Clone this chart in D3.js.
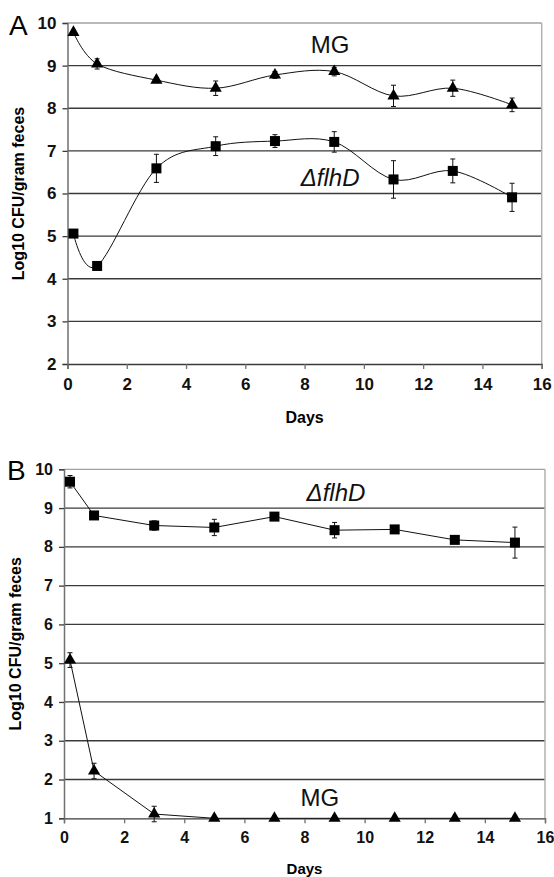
<!DOCTYPE html>
<html>
<head>
<meta charset="utf-8">
<script src="https://cdn.jsdelivr.net/npm/d3@7"></script>
<style>
  body { margin: 0; background: #fff; }
  svg { display: block; font-family: "Liberation Sans", Arial, sans-serif; }
</style>
</head>
<body>
<svg width="554" height="877"></svg>
<script>
// ---- data ----
let days = [0.2, 1, 3, 5, 7, 9, 11, 13, 15];

// panel A
let aMG = [9.78, 9.04, 8.66, 8.47, 8.78, 8.86, 8.29, 8.47, 8.08];
let aMGerr = [0.05, 0.12, 0.06, 0.17, 0.08, 0.1, 0.25, 0.19, 0.16];
let aFlhD = [5.06, 4.3, 6.59, 7.11, 7.23, 7.21, 6.33, 6.53, 5.91];
let aFlhDerr = [0.05, 0.05, 0.33, 0.22, 0.15, 0.24, 0.44, 0.28, 0.33];

// panel B
let bFlhD = [9.68, 8.81, 8.55, 8.5, 8.78, 8.43, 8.45, 8.18, 8.11];
let bFlhDerr = [0.16, 0.04, 0.12, 0.21, 0.05, 0.2, 0.07, 0.05, 0.4];
let bMG = [5.08, 2.22, 1.11, 1.0, 1.0, 1.0, 1.0, 1.0, 1.0];
let bMGerr = [0.19, 0.2, 0.2, 0, 0, 0, 0, 0, 0];

let xTicks = [0, 2, 4, 6, 8, 10, 12, 14, 16];
let aYTicks = [2, 3, 4, 5, 6, 7, 8, 9, 10];
let bYTicks = [1, 2, 3, 4, 5, 6, 7, 8, 9, 10];

let svg = d3.select('svg');

let drawPanel = (p) => {
  let x = d3.scaleLinear().domain([0, 16]).range([p.left, p.right]);
  let y = d3.scaleLinear().domain(p.yDomain).range([p.bottom, p.top]);
  let g = svg.append('g');

  // gridlines
  g.selectAll('.grid')
   .data(p.yTicks.slice(1))
   .enter()
   .append('line')
   .attr('x1', p.left).attr('x2', p.right)
   .attr('y1', d => y(d)).attr('y2', d => y(d))
   .attr('stroke', d => d === p.yDomain[1] ? '#a0a0a0' : '#3a3a3a')
   .attr('stroke-width', 1.3);

  // right border
  g.append('line')
   .attr('x1', p.right).attr('x2', p.right)
   .attr('y1', p.top).attr('y2', p.bottom)
   .attr('stroke', '#b0b0b0').attr('stroke-width', 1.5);

  // axes
  let yAxis = d3.axisLeft(y).tickValues(p.yTicks).tickSize(5).tickPadding(p.yPad);
  let ya = g.append('g').attr('transform', 'translate(' + p.left + ',0)').call(yAxis);
  ya.select('.domain').attr('stroke', '#707070').attr('stroke-width', 1.5);
  ya.selectAll('.tick line').attr('stroke', '#3a3a3a').attr('stroke-width', 1.3);
  ya.selectAll('.tick text')
    .style('font-size', p.tickFont + 'px').style('font-weight', 'bold')
    .style('font-family', '"Liberation Sans", Arial, sans-serif').attr('fill', '#111');

  let xAxis = d3.axisBottom(x).tickValues(xTicks).tickSize(5).tickPadding(p.xPad);
  let xa = g.append('g').attr('transform', 'translate(0,' + p.bottom + ')').call(xAxis);
  xa.select('.domain').attr('stroke', '#3a3a3a').attr('stroke-width', 1.3);
  xa.selectAll('.tick line').attr('stroke', '#707070').attr('stroke-width', 1.3);
  xa.selectAll('.tick text')
    .style('font-size', p.tickFont + 'px').style('font-weight', 'bold')
    .style('font-family', '"Liberation Sans", Arial, sans-serif').attr('fill', '#111');

  // axis titles
  g.append('text')
   .attr('x', (p.left + p.right) / 2).attr('y', p.daysY)
   .attr('text-anchor', 'middle')
   .style('font-size', p.daysFont + 'px').style('font-weight', 'bold')
   .text('Days');

  g.append('text')
   .attr('transform', 'translate(' + p.titleX + ',' + (p.top + p.bottom) / 2 + ') rotate(-90)')
   .attr('text-anchor', 'middle')
   .style('font-size', '16px').style('font-weight', 'bold')
   .text('Log10 CFU/gram feces');

  // panel letter
  g.append('text')
   .attr('x', p.letterX).attr('y', p.letterY)
   .style('font-size', '28px')
   .text(p.letter);

  // series
  p.series.forEach(s => {
    let pts = days.map((d, i) => ({ d: d, v: s.values[i], e: s.err[i] }));
    let line = d3.line().x(q => x(q.d)).y(q => y(q.v)).curve(p.curve);
    g.append('path')
     .attr('d', line(pts))
     .attr('fill', 'none').attr('stroke', '#111').attr('stroke-width', 1);

    let eb = g.selectAll(null).data(pts.filter(q => q.e > 0)).enter().append('g');
    eb.append('line')
      .attr('x1', q => x(q.d)).attr('x2', q => x(q.d))
      .attr('y1', q => y(q.v + q.e)).attr('y2', q => y(q.v - q.e))
      .attr('stroke', '#111').attr('stroke-width', 1);
    [1, -1].forEach(sg => {
      eb.append('line')
        .attr('x1', q => x(q.d) - 2.5).attr('x2', q => x(q.d) + 2.5)
        .attr('y1', q => y(q.v + sg * q.e)).attr('y2', q => y(q.v + sg * q.e))
        .attr('stroke', '#111').attr('stroke-width', 1);
    });

    if (s.shape === 'square') {
      g.selectAll(null).data(pts).enter().append('rect')
       .attr('x', q => x(q.d) - 5).attr('y', q => y(q.v) - 5)
       .attr('width', 10).attr('height', 10)
       .attr('fill', '#000');
    } else {
      g.selectAll(null).data(pts).enter().append('path')
       .attr('d', d3.symbol(d3.symbolTriangle, 64))
       .attr('transform', q => 'translate(' + x(q.d) + ',' + y(q.v) + ')')
       .attr('fill', '#000');
    }
  });

  // series labels
  p.labels.forEach(l => {
    g.append('text')
     .attr('x', x(l.d)).attr('y', y(l.v))
     .attr('text-anchor', l.anchor)
     .style('font-size', '24px')
     .style('font-style', l.italic ? 'italic' : 'normal')
     .attr('fill', '#111')
     .text(l.text);
  });
};

drawPanel({
  left: 67.5, right: 541.7, top: 23, bottom: 364,
  yDomain: [2, 10], yTicks: aYTicks, yPad: 6, xPad: 9, tickFont: 17, daysFont: 16,
  daysY: 423, titleX: 24, letter: 'A', letterX: 9, letterY: 35,
  curve: d3.curveCardinal,
  series: [
    { values: aMG, err: aMGerr, shape: 'triangle' },
    { values: aFlhD, err: aFlhDerr, shape: 'square' }
  ],
  labels: [
    { text: 'MG', d: 8.86, v: 9.3, anchor: 'middle', italic: false },
    { text: '\u0394flhD', d: 7.87, v: 6.17, anchor: 'start', italic: true }
  ]
});

drawPanel({
  left: 64, right: 545, top: 469.3, bottom: 818.3,
  yDomain: [1, 10], yTicks: bYTicks, yPad: 6, xPad: 8, tickFont: 16, daysFont: 15,
  daysY: 874, titleX: 21, letter: 'B', letterX: 7, letterY: 480,
  curve: d3.curveLinear,
  series: [
    { values: bFlhD, err: bFlhDerr, shape: 'square' },
    { values: bMG, err: bMGerr, shape: 'triangle' }
  ],
  labels: [
    { text: '\u0394flhD', d: 8.07, v: 9.17, anchor: 'start', italic: true },
    { text: 'MG', d: 7.87, v: 1.32, anchor: 'start', italic: false }
  ]
});
</script>
</body>
</html>
